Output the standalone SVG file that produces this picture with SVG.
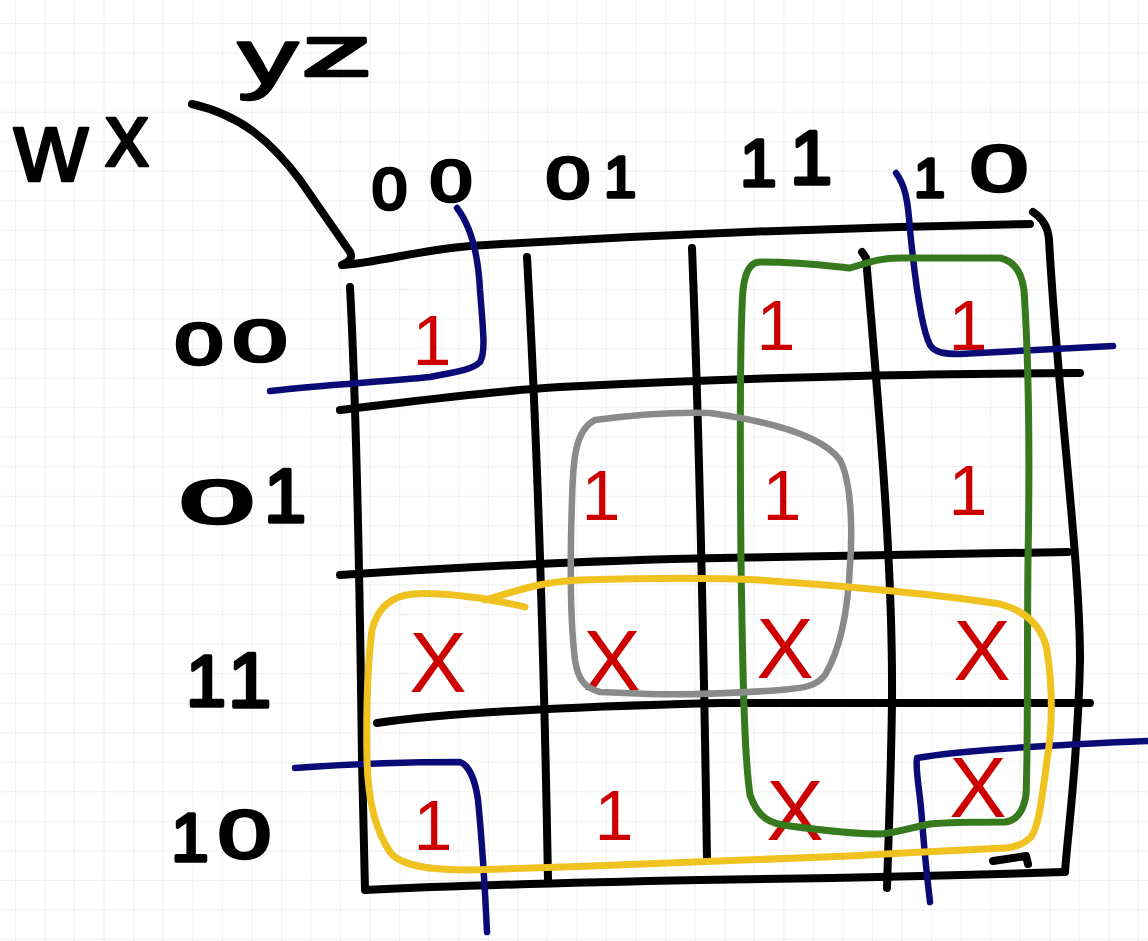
<svg xmlns="http://www.w3.org/2000/svg" width="1148" height="941" viewBox="0 0 1148 941">
<defs>
<pattern id="grid" x="15" y="23" width="29.55" height="29.55" patternUnits="userSpaceOnUse">
<path d="M0,0 H29.55 M0,0 V29.55" fill="none" stroke="#ebebeb" stroke-width="1.6"/>
</pattern>
<style>
.ink{fill:none;stroke:#000;stroke-width:8;stroke-linecap:round;stroke-linejoin:round}
.blue{fill:none;stroke:#0b0b78;stroke-width:6.5;stroke-linecap:round;stroke-linejoin:round}
.green{fill:none;stroke:#377a1e;stroke-width:7;stroke-linecap:round;stroke-linejoin:round}
.gray{fill:none;stroke:#8a8a8a;stroke-width:6.5;stroke-linecap:round;stroke-linejoin:round}
.yellow{fill:none;stroke:#efc220;stroke-width:7;stroke-linecap:round;stroke-linejoin:round}
.lbl{font-family:"Liberation Sans",Arial,sans-serif;fill:#000;stroke:#000;stroke-width:3.5;stroke-linejoin:round}
.big{font-family:"Liberation Sans",Arial,sans-serif;fill:#000;stroke:#000;stroke-width:2.5;stroke-linejoin:round}
.one{font-family:"Liberation Sans",Arial,sans-serif;font-size:70px;fill:#cc0000;text-anchor:middle}
.x{font-family:"Liberation Sans",Arial,sans-serif;font-size:86px;fill:#cc0000;text-anchor:middle}
</style>
</defs>
<rect width="1148" height="941" fill="#ffffff"/>
<rect width="1148" height="941" fill="url(#grid)"/>

<g id="kmap-grid">
<path class="ink" d="M192,104 C240,115 270,140 300,180 L350,252 Q354,260 342,265"/>
<path class="ink" d="M343,265 C380,262 420,250 470,246 C600,238 800,228 1030,224"/>
<path class="ink" d="M1033,212 Q1048,222 1049,240 C1058,400 1080,560 1080,660 C1078,760 1068,830 1065,872"/>
<path class="ink" d="M350,287 C356,400 360,600 362,760 L365,890 C450,886 600,882 700,880 C850,878 950,876 1063,872"/>
<path class="ink" d="M993,861 L1026,856 L1028,864"/>
<path class="ink" d="M527,257 C535,400 543,600 548,880"/>
<path class="ink" d="M692,248 C698,400 703,600 707,858"/>
<path class="ink" d="M862,252 L866,258 C878,400 893,560 892,700 C891,780 888,850 887,888"/>
<path class="ink" d="M340,410 C400,403 480,392 560,387 C800,375 950,374 1080,373"/>
<path class="ink" d="M340,575 C450,568 600,560 720,558 C900,554 1000,553 1068,552"/>
<path class="ink" d="M377,723 C450,712 600,706 720,703 L1090,703"/>
</g>

<g id="labels">
<text class="big"><tspan x="14" y="181" font-size="100" textLength="74" lengthAdjust="spacingAndGlyphs">w</tspan><tspan x="105" y="166" font-size="90" textLength="44" lengthAdjust="spacingAndGlyphs">x</tspan></text>
<text class="big"><tspan x="238" y="84" font-size="78" textLength="60" lengthAdjust="spacingAndGlyphs">y</tspan><tspan x="301" y="76" font-size="72" textLength="72" lengthAdjust="spacingAndGlyphs">z</tspan></text>
<text class="lbl"><tspan x="372" y="209" font-size="57" textLength="35" lengthAdjust="spacingAndGlyphs">0</tspan><tspan x="430" y="201" font-size="57" textLength="42" lengthAdjust="spacingAndGlyphs">0</tspan></text>
<text class="lbl"><tspan x="546" y="198" font-size="58" textLength="44" lengthAdjust="spacingAndGlyphs">0</tspan><tspan x="604" y="197" font-size="58">1</tspan></text>
<text class="lbl"><tspan x="740" y="186" font-size="66">1</tspan><tspan x="790" y="184" font-size="76">1</tspan></text>
<text class="lbl"><tspan x="914" y="197" font-size="56">1</tspan><tspan x="970" y="191" font-size="65" textLength="58" lengthAdjust="spacingAndGlyphs">0</tspan></text>
<text class="lbl"><tspan x="175" y="364" font-size="58" textLength="48" lengthAdjust="spacingAndGlyphs">0</tspan><tspan x="233" y="361" font-size="58" textLength="54" lengthAdjust="spacingAndGlyphs">0</tspan></text>
<text class="lbl"><tspan x="180" y="523" font-size="62" textLength="74" lengthAdjust="spacingAndGlyphs">0</tspan><tspan x="264" y="522" font-size="76">1</tspan></text>
<text class="lbl"><tspan x="186" y="706" font-size="72">1</tspan><tspan x="228" y="707" font-size="78">1</tspan></text>
<text class="lbl"><tspan x="171" y="861" font-size="68">1</tspan><tspan x="218" y="858" font-size="68" textLength="53" lengthAdjust="spacingAndGlyphs">0</tspan></text>
</g>

<g id="cells">
<text class="one" x="432" y="365">1</text>
<text class="one" x="776" y="350">1</text>
<text class="one" x="968" y="350">1</text>
<text class="one" x="601" y="520">1</text>
<text class="one" x="782" y="520">1</text>
<text class="one" x="968" y="515">1</text>
<text class="one" x="433" y="850">1</text>
<text class="one" x="614" y="840">1</text>
<text class="x" x="438" y="692">X</text>
<text class="x" x="612" y="690" font-size="80">X</text>
<text class="x" x="785" y="678">X</text>
<text class="x" x="982" y="680">X</text>
<text class="x" x="795" y="840">X</text>
<text class="x" x="978" y="817">X</text>
</g>

<g id="groups">
<path class="blue" d="M457,208 C470,225 478,250 480,290 C483,330 486,352 480,362 C472,370 455,372 430,377 C380,382 320,385 270,391"/>
<path class="blue" d="M896,173 C905,185 908,200 910,230 C915,280 922,330 930,345 C935,353 945,354 960,354 L1113,346"/>
<path class="blue" d="M295,768 C350,764 420,762 460,762 C468,765 475,778 478,800 C482,840 485,890 487,932"/>
<path class="blue" d="M1148,741 C1050,745 960,750 917,758 C915,770 920,790 922,820 C925,860 928,885 930,902"/>
<path class="green" d="M760,262 C800,262 830,266 850,268 C870,262 880,258 900,258 L1000,258 Q1020,262 1024,290 C1028,350 1030,450 1028,560 C1027,650 1028,760 1026,795 Q1022,820 1005,822 C980,822 950,822 930,824 C910,828 895,833 880,834 C850,834 820,830 790,826 C770,824 758,818 750,795 C745,760 743,700 741,560 C740,450 740,330 743,290 Q746,262 760,262 Z"/>
<path class="gray" d="M595,420 C640,414 680,412 710,413 C760,420 820,433 840,460 C853,485 852,540 850,565 C848,610 840,650 825,675 C815,688 800,688 780,690 C740,693 700,695 650,694 L600,692 C585,688 578,680 575,660 C570,620 570,560 572,500 C573,460 575,430 595,420 Z"/>
<path class="yellow" d="M485,600 C520,590 540,582 580,580 C650,578 720,578 760,580 C850,586 950,596 1000,604 Q1040,615 1047,650 C1053,690 1052,730 1047,760 C1042,800 1038,830 1030,838 Q1020,847 1005,848 C960,850 900,853 850,856 C750,860 600,866 470,870 C430,870 400,866 390,852 C375,830 368,800 367,760 C366,700 368,660 372,630 Q380,597 413,594 C440,592 460,596 480,598 C500,602 515,604 525,607"/>
</g>
</svg>
